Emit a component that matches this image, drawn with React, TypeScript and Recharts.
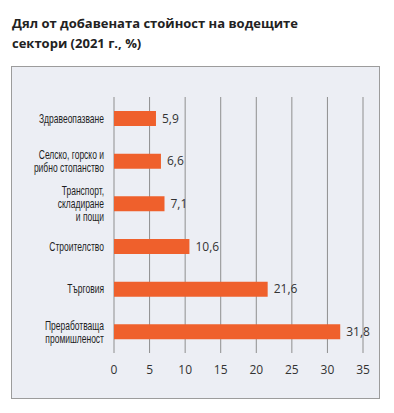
import React from 'react';
import { BarChart, Bar, XAxis, YAxis, CartesianGrid, LabelList } from 'recharts';

const sectors = [
  'Здравеопазване',
  'Селско, горско и\nрибно стопанство',
  'Транспорт,\nскладиране\nи пощи',
  'Строителство',
  'Търговия',
  'Преработваща\nпромишленост',
];
const shares = [5.9, 6.6, 7.1, 10.6, 21.6, 31.8];
const xTicks = [0, 5, 10, 15, 20, 25, 30, 35];

const data = sectors.map((name, i) => ({ name, value: shares[i] }));

// narrow font isn't installed, so squeeze the labels horizontally
const SectorTick = (props: any) => {
  const { x, y, payload } = props;
  const lines: string[] = String(payload.value).split('\n');
  const lh = 13;
  const startY = -((lines.length - 1) * lh) / 2;
  return (
    <g transform={`translate(${x} ${y}) scale(0.68 1)`}>
      <text
        x={0}
        y={startY}
        textAnchor="end"
        fill="#1e1e1e"
        fontSize={12.5}
        fontFamily="'Liberation Sans', sans-serif"
      >
        {lines.map((l, i) => (
          <tspan key={i} x={0} y={startY + i * lh} dy="0.35em">
            {l}
          </tspan>
        ))}
      </text>
    </g>
  );
};

export default function App() {
  return (
    <div style={{ position: 'absolute', left: 0, top: 0, width: 394, height: 413, background: '#fff' }}>
      <div
        style={{
          position: 'absolute',
          left: 12,
          top: 13,
          fontFamily: "'Open Sans', sans-serif",
          fontWeight: 700,
          fontSize: 13,
          lineHeight: '20px',
          color: '#222',
          letterSpacing: 0,
        }}
      >
        Дял от добавената стойност на водещите
        <br />
        сектори (2021 г., %)
      </div>
      <div
        style={{
          position: 'absolute',
          left: 11,
          top: 66,
          width: 367,
          height: 331,
          background: '#eceef4',
          border: '1px solid #9c9c9c',
        }}
      >
        <BarChart
          width={367}
          height={331}
          data={data}
          layout="vertical"
          margin={{ top: 30, right: 16, left: 0, bottom: 14 }}
          barCategoryGap={14}
        >
          <CartesianGrid horizontal={false} vertical stroke="#8e8e8e" />
          <XAxis
            type="number"
            domain={[0, 35]}
            ticks={xTicks}
            axisLine={false}
            tickLine={false}
            tick={{ fontSize: 12, fill: '#333', fontFamily: "'Open Sans', sans-serif" }}
            height={31}
            dy={4}
            interval={0}
          />
          <YAxis
            type="category"
            dataKey="name"
            width={102}
            axisLine={false}
            tickLine={false}
            tick={<SectorTick />}
            tickMargin={4}
            interval={0}
          />
          <Bar dataKey="value" fill="#ef602c" barSize={15} isAnimationActive={false}>
            <LabelList
              dataKey="value"
              position="right"
              offset={6}
              formatter={(v: any) => String(v).replace('.', ',')}
              style={{ fontSize: 12, fill: '#333', fontFamily: "'Open Sans', sans-serif" }}
            />
          </Bar>
        </BarChart>
      </div>
    </div>
  );
}
